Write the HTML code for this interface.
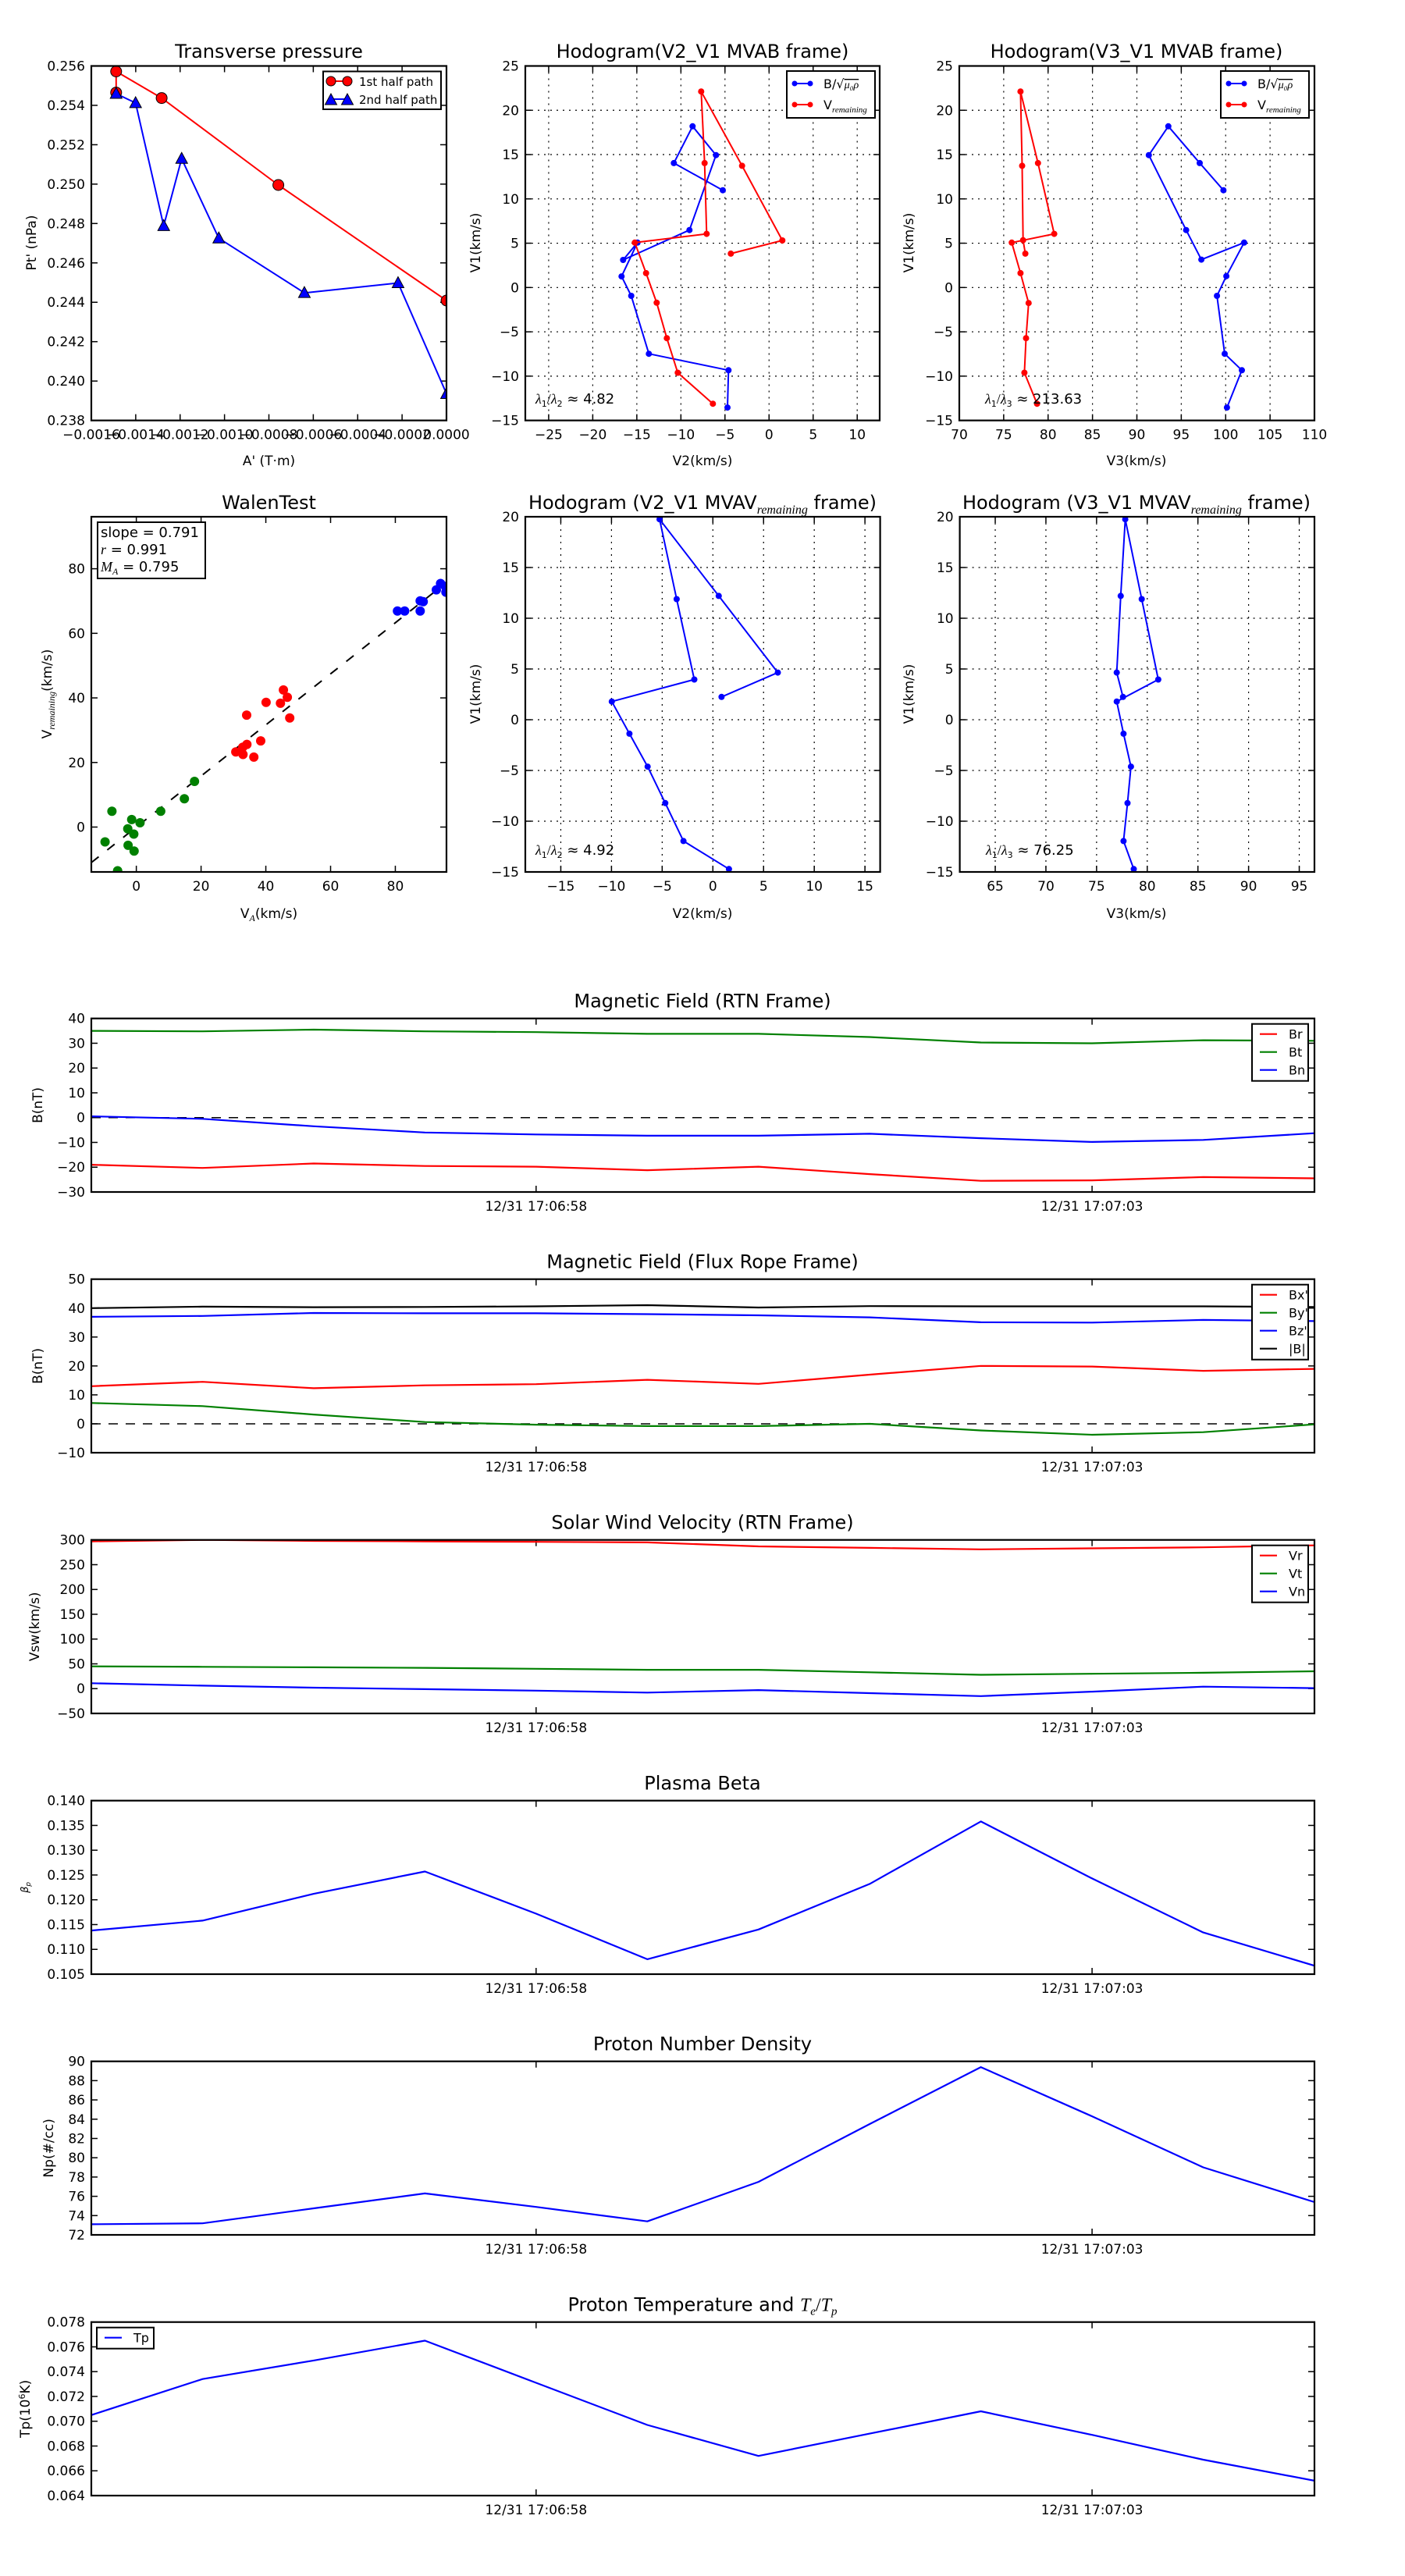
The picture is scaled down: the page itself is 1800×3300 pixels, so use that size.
<!DOCTYPE html>
<html><head><meta charset="utf-8"><style>
html,body{margin:0;padding:0;background:#fff;}
svg{display:block;}
text{font-family:"DejaVu Sans","Liberation Sans",sans-serif;fill:#000;}
</style></head><body>
<svg id="s" width="1800" height="3300" xmlns="http://www.w3.org/2000/svg"></svg>
<script>
var S=[],cid=0;
function add(s){S.push(s);}
function txt(x,y,s,o){o=o||{};add('<text x="'+x+'" y="'+y+'" font-size="'+(o.fs||17)+'" text-anchor="'+(o.a||'start')+'"'+(o.tr?' transform="'+o.tr+'"':'')+(o.st?' font-style="'+o.st+'"':'')+'>'+s+'</text>');}
function fmt(v){return (v<0?'\u2212':'')+Math.abs(v);}
function axes(o){
  var X=function(v){return o.L+(v-o.x0)/(o.x1-o.x0)*(o.R-o.L);};
  var Y=function(v){return o.B-(v-o.y0)/(o.y1-o.y0)*(o.B-o.T);};
  o.X=X;o.Y=Y;o.id='c'+(cid++);
  add('<clipPath id="'+o.id+'"><rect x="'+o.L+'" y="'+o.T+'" width="'+(o.R-o.L)+'" height="'+(o.B-o.T)+'"/></clipPath>');
  (o.xt||[]).forEach(function(t){var x=X(t[0]);
    if(o.grid)add('<line x1="'+x+'" y1="'+o.T+'" x2="'+x+'" y2="'+o.B+'" stroke="#000" stroke-width="1.2" stroke-dasharray="2,6"/>');
    add('<line x1="'+x+'" y1="'+o.B+'" x2="'+x+'" y2="'+(o.B-8)+'" stroke="#000" stroke-width="1.5"/><line x1="'+x+'" y1="'+o.T+'" x2="'+x+'" y2="'+(o.T+8)+'" stroke="#000" stroke-width="1.5"/>');
    txt(x,o.B+24,t[1],{a:'middle'});});
  (o.yt||[]).forEach(function(t){var y=Y(t[0]);
    if(o.grid)add('<line x1="'+o.L+'" y1="'+y+'" x2="'+o.R+'" y2="'+y+'" stroke="#000" stroke-width="1.2" stroke-dasharray="2,6"/>');
    add('<line x1="'+o.L+'" y1="'+y+'" x2="'+(o.L+8)+'" y2="'+y+'" stroke="#000" stroke-width="1.5"/><line x1="'+o.R+'" y1="'+y+'" x2="'+(o.R-8)+'" y2="'+y+'" stroke="#000" stroke-width="1.5"/>');
    txt(o.L-8,y+6,t[1],{a:'end'});});
  return o;
}
function frame(o){add('<rect x="'+o.L+'" y="'+o.T+'" width="'+(o.R-o.L)+'" height="'+(o.B-o.T)+'" fill="none" stroke="#000" stroke-width="2.2"/>');}
function poly(o,pts,col,w,dash){add('<polyline clip-path="url(#'+o.id+')" points="'+pts.map(function(p){return p[0].toFixed(1)+','+p[1].toFixed(1);}).join(' ')+'" fill="none" stroke="'+col+'" stroke-width="'+(w||2)+'" stroke-linejoin="round"'+(dash?' stroke-dasharray="'+dash+'"':'')+'/>');}
function dots(o,pts,col,r,edge){pts.forEach(function(p){add('<circle clip-path="url(#'+o.id+')" cx="'+p[0].toFixed(1)+'" cy="'+p[1].toFixed(1)+'" r="'+r+'" fill="'+col+'"'+(edge?' stroke="#000" stroke-width="1"':'')+'/>');});}
function tris(o,pts){pts.forEach(function(p){var x=p[0],y=p[1];add('<polygon clip-path="url(#'+o.id+')" points="'+x+','+(y-8)+' '+(x-7.5)+','+(y+6)+' '+(x+7.5)+','+(y+6)+'" fill="#0000ff" stroke="#000" stroke-width="1"/>');});}
function cv(pts,ox,fx,oy,fy){return pts.map(function(p){return [ox+p[0]/fx,oy+p[1]/fy];});}
function range(a,b,s){var r=[];for(var v=a;v<=b+1e-9;v+=s)r.push([v,fmt(+v.toFixed(6))]);return r;}

var xtA=[];for(var i=0;i<9;i++){var v=-0.0016+i*0.0002;xtA.push([v,(v<-1e-9?'\u2212':'')+Math.abs(v).toFixed(4)]);}
var ytA=[];for(i=0;i<10;i++){v=0.238+i*0.002;ytA.push([v,v.toFixed(3)]);}
var a1=axes({L:117,R:572,T:84.5,B:538.6,x0:-0.0016,x1:0,y0:0.238,y1:0.256,xt:xtA,yt:ytA});
var red1=cv([[388,252],[388,175],[540,272],[930,589],[1492,1010]],0,2.608,30,2.845);
var blu1=cv([[388,256],[453,290],[547,738],[607,493],[731,783],[1017,982],[1330,946],[1492,1350]],0,2.608,30,2.845);
poly(a1,red1,'#ff0000',2);poly(a1,blu1,'#0000ff',2);
dots(a1,red1,'#ff0000',7,true);tris(a1,blu1);
frame(a1);
add('<rect x="414" y="91.5" width="151" height="48.5" fill="#fff" stroke="#000" stroke-width="2"/>');
add('<line x1="424" y1="104" x2="445" y2="104" stroke="#ff0000" stroke-width="2"/>');
add('<circle cx="424" cy="104" r="6" fill="#ff0000" stroke="#000"/><circle cx="445" cy="104" r="6" fill="#ff0000" stroke="#000"/>');
add('<line x1="424" y1="127" x2="445" y2="127" stroke="#0000ff" stroke-width="2"/>');
tris(a1,[[424,128],[445,128]]);
txt(460,110,'1st half path',{fs:15});txt(460,133,'2nd half path',{fs:15});
txt(344.5,74,'Transverse pressure',{fs:24,a:'middle'});
txt(344.5,596,"A' (T\u00b7m)",{a:'middle'});
txt(0,0,"Pt' (nPa)",{a:'middle',tr:'translate(46,311) rotate(-90)'});

function hodLegend(x){
  add('<rect x="'+x+'" y="91" width="113" height="60" fill="#fff" stroke="#000" stroke-width="2"/>');
  add('<line x1="'+(x+10)+'" y1="107" x2="'+(x+30)+'" y2="107" stroke="#0000ff" stroke-width="2"/><circle cx="'+(x+10)+'" cy="107" r="3.5" fill="#0000ff"/><circle cx="'+(x+30)+'" cy="107" r="3.5" fill="#0000ff"/>');
  add('<line x1="'+(x+10)+'" y1="134" x2="'+(x+30)+'" y2="134" stroke="#ff0000" stroke-width="2"/><circle cx="'+(x+10)+'" cy="134" r="3.5" fill="#ff0000"/><circle cx="'+(x+30)+'" cy="134" r="3.5" fill="#ff0000"/>');
  add('<text x="'+(x+47)+'" y="113" font-size="16">B/\u221a<tspan font-style="italic" font-family="Liberation Serif,serif" font-size="14" text-decoration="overline">\u03bc\u2080\u03c1</tspan></text>');
  add('<text x="'+(x+47)+'" y="140" font-size="16">V<tspan font-style="italic" font-family="Liberation Serif,serif" font-size="11" dy="4">remaining</tspan></text>');
}
function lam(x,y,sub,val){add('<text x="'+x+'" y="'+y+'" font-size="18"><tspan font-family="Liberation Serif,serif" font-style="italic">\u03bb</tspan><tspan font-size="11" dy="4">1</tspan><tspan dy="-4" font-family="Liberation Serif,serif">/</tspan><tspan font-family="Liberation Serif,serif" font-style="italic">\u03bb</tspan><tspan font-size="11" dy="4">'+sub+'</tspan><tspan dy="-4"> \u2248 '+val+'</tspan></text>');}

var a2=axes({L:673,R:1127,T:84.5,B:538.6,x0:-27.65,x1:12.55,y0:-15,y1:25,grid:1,xt:range(-25,10,5),yt:range(-15,25,5)});
var b2=cv([[798,608],[610,509],[682,375],[772,480],[670,753],[415,862],[470,799],[409,922],[446,993],[514,1204],[820,1264],[816,1400]],660,3,30,2.845);
var r2=cv([[829,839],[1027,791],[872,519],[715,248],[728,509],[736,767],[460,799],[503,910],[544,1018],[583,1147],[625,1273],[760,1386]],660,3,30,2.845);
poly(a2,b2,'#0000ff',2);dots(a2,b2,'#0000ff',4);poly(a2,r2,'#ff0000',2);dots(a2,r2,'#ff0000',4);
frame(a2);hodLegend(1008);lam(686,517,'2','4.82');
txt(900,74,'Hodogram(V2_V1 MVAB frame)',{fs:24,a:'middle'});
txt(900,596,'V2(km/s)',{a:'middle'});
txt(0,0,'V1(km/s)',{a:'middle',tr:'translate(615,311) rotate(-90)'});

var a3=axes({L:1229,R:1684,T:84.5,B:538.6,x0:70,x1:110,y0:-15,y1:25,grid:1,xt:range(70,110,5),yt:range(-15,25,5)});
var b3=cv([[1005,608],[932,509],[835,375],[775,480],[890,753],[937,861],[1069,799],[1014,921],[985,993],[1009,1204],[1062,1264],[1016,1400]],1150,2.408,30,2.845);
var r3=cv([[394,839],[387,790],[384,519],[379,248],[433,509],[483,767],[352,799],[379,910],[404,1019],[396,1147],[391,1273],[430,1386]],1150,2.408,30,2.845);
poly(a3,b3,'#0000ff',2);dots(a3,b3,'#0000ff',4);poly(a3,r3,'#ff0000',2);dots(a3,r3,'#ff0000',4);
frame(a3);hodLegend(1564);lam(1262,517,'3','213.63');
txt(1456,74,'Hodogram(V3_V1 MVAB frame)',{fs:24,a:'middle'});
txt(1456,596,'V3(km/s)',{a:'middle'});
txt(0,0,'V1(km/s)',{a:'middle',tr:'translate(1170,311) rotate(-90)'});

var a4=axes({L:117,R:572,T:662,B:1117,x0:-13.9,x1:95.8,y0:-13.9,y1:96.1,xt:range(0,80,20),yt:range(0,80,20)});
function wz(p){return cv(p,0,2.608,640,2.698);}
poly(a4,[[a4.X(-13.9),a4.Y(-13.9*0.791)],[a4.X(95.8),a4.Y(95.8*0.791)]],'#000',2,'12,14');
dots(a4,wz([[374,1077],[440,1106],[468,1117],[427,1138],[447,1156],[351,1183],[428,1195],[448,1215],[393,1283],[537,1077],[616,1034],[650,974]]),'#008000',6);
dots(a4,wz([[788,872],[811,856],[825,846],[812,881],[848,890],[871,834],[824,745],[889,701],[937,704],[947,658],[960,683],[968,755]]),'#ff0000',6);
dots(a4,wz([[1328,385],[1352,385],[1404,385],[1404,350],[1414,353],[1458,312],[1472,290],[1488,300],[1490,320]]),'#0000ff',6);
frame(a4);
add('<rect x="125" y="669" width="138" height="72" fill="#fff" stroke="#000" stroke-width="2"/>');
txt(129,688,'slope = 0.791',{fs:18});
add('<text x="129" y="710" font-size="18"><tspan font-family="Liberation Serif,serif" font-style="italic">r</tspan> = 0.991</text>');
add('<text x="129" y="732" font-size="18"><tspan font-family="Liberation Serif,serif" font-style="italic">M</tspan><tspan font-family="Liberation Serif,serif" font-style="italic" font-size="12" dy="4">A</tspan><tspan dy="-4"> = 0.795</tspan></text>');
txt(344.5,652,'WalenTest',{fs:24,a:'middle'});
add('<text x="344.5" y="1176" font-size="17" text-anchor="middle">V<tspan font-family="Liberation Serif,serif" font-style="italic" font-size="12" dy="4">A</tspan><tspan dy="-4">(km/s)</tspan></text>');
add('<text transform="translate(66,889) rotate(-90)" font-size="17" text-anchor="middle">V<tspan font-family="Liberation Serif,serif" font-style="italic" font-size="12" dy="4">remaining</tspan><tspan dy="-4">(km/s)</tspan></text>');

function rz(p){return cv(p,660,1.3728,640,2.698);}
var a5=axes({L:673,R:1127.6,T:662,B:1117,x0:-18.5,x1:16.5,y0:-15,y1:20,grid:1,xt:range(-15,15,5),yt:range(-15,20,5)});
var b5=rz([[363,682],[462,598],[358,333],[254,68],[284,344],[315,622],[170,698],[201,809],[233,923],[264,1049],[296,1180],[376,1277]]);
poly(a5,b5,'#0000ff',2);dots(a5,b5,'#0000ff',4);frame(a5);lam(686,1095,'2','4.92');
add('<text x="900" y="652" font-size="24" text-anchor="middle">Hodogram (V2_V1 MVAV<tspan font-family="Liberation Serif,serif" font-style="italic" font-size="16" dy="6">remaining</tspan><tspan dy="-6"> frame)</tspan></text>');
txt(900,1176,'V2(km/s)',{a:'middle'});
txt(0,0,'V1(km/s)',{a:'middle',tr:'translate(615,889) rotate(-90)'});

var a6=axes({L:1229.6,R:1684,T:662,B:1117,x0:61.5,x1:96.5,y0:-15,y1:20,grid:1,xt:range(65,95,5),yt:range(-15,20,5)});
var b6=rz([[1069,682],[1058,598],[1065,333],[1073,68],[1102,344],[1131,622],[1058,698],[1070,809],[1083,923],[1077,1049],[1070,1180],[1088,1277]]);
poly(a6,b6,'#0000ff',2);dots(a6,b6,'#0000ff',4);frame(a6);lam(1263,1095,'3','76.25');
add('<text x="1456" y="652" font-size="24" text-anchor="middle">Hodogram (V3_V1 MVAV<tspan font-family="Liberation Serif,serif" font-style="italic" font-size="16" dy="6">remaining</tspan><tspan dy="-6"> frame)</tspan></text>');
txt(1456,1176,'V3(km/s)',{a:'middle'});
txt(0,0,'V1(km/s)',{a:'middle',tr:'translate(1170,889) rotate(-90)'});

var tx=[[4,'12/31 17:06:58'],[9,'12/31 17:07:03']];
function ts(i,y0,y1,yt,series,title,ylab,ylx,zero,leg,legLeft){
  var T=1304.7+i*334,B=T+222.3;
  var o=axes({L:117,R:1684,T:T,B:B,x0:0,x1:11,y0:y0,y1:y1,xt:tx,yt:yt});
  if(zero)poly(o,[[117,o.Y(0)],[1684,o.Y(0)]],'#000',1.5,'12,10');
  series.forEach(function(s){poly(o,s[1].map(function(v,k){return [o.X(k),o.Y(v)];}),s[0],2.2);});
  frame(o);
  txt(900,T-14,title,{fs:24,a:'middle'});
  if(typeof ylab==='string')txt(0,0,ylab,{a:'middle',tr:'translate('+ylx+','+((T+B)/2)+') rotate(-90)'});else add(ylab(ylx,(T+B)/2));
  if(leg){var n=leg.length,h=n*23+4,bx=legLeft?124:1604,bw=legLeft?73:72;if(legLeft)h=27;
    add('<rect x="'+bx+'" y="'+(T+7)+'" width="'+bw+'" height="'+h+'" fill="#fff" stroke="#000" stroke-width="2"/>');
    leg.forEach(function(l,k){var y=T+20+k*23;add('<line x1="'+(bx+10)+'" y1="'+y+'" x2="'+(bx+32)+'" y2="'+y+'" stroke="'+l[0]+'" stroke-width="2.2"/>');txt(bx+47,y+6,l[1],{fs:16});});}
}
ts(0,-30,40,range(-30,40,10),[['#008000',[35,34.8,35.5,34.8,34.5,33.8,33.8,32.5,30.3,30,31.2,31]],['#0000ff',[0.5,-0.5,-3.5,-6,-6.8,-7.3,-7.3,-6.5,-8.3,-9.8,-9,-6.3]],['#ff0000',[-19,-20.3,-18.5,-19.5,-19.8,-21.2,-19.8,-22.8,-25.5,-25.3,-24,-24.5]]],'Magnetic Field (RTN Frame)','B(nT)',54,1,[['#ff0000','Br'],['#008000','Bt'],['#0000ff','Bn']]);
ts(1,-10,50,range(-10,50,10),[['#000',[40,40.5,40.3,40.4,40.6,41,40.2,40.7,40.6,40.6,40.6,40.4]],['#0000ff',[37,37.3,38.3,38.2,38.2,37.9,37.5,36.8,35.1,35,35.9,35.5]],['#ff0000',[13,14.5,12.3,13.3,13.7,15.2,13.8,17,20,19.8,18.3,19]],['#008000',[7.2,6.1,3.2,0.6,-0.3,-0.8,-0.8,0,-2.3,-3.8,-2.9,-0.2]]],'Magnetic Field (Flux Rope Frame)','B(nT)',54,1,[['#ff0000',"Bx'"],['#008000',"By'"],['#0000ff',"Bz'"],['#000','|B|']]);
ts(2,-50,300,range(-50,300,50),[['#ff0000',[297,300,298,297,296,295,287,284,281,283,285,289]],['#008000',[45,44,43,42,40,38,38,33,28,30,32,35]],['#0000ff',[11,6,2,-1,-4,-8,-3,-9,-15,-6,4,1]]],'Solar Wind Velocity (RTN Frame)','Vsw(km/s)',50,0,[['#ff0000','Vr'],['#008000','Vt'],['#0000ff','Vn']]);
var ytb=[];for(i=0;i<8;i++){v=0.105+i*0.005;ytb.push([v,v.toFixed(3)]);}
ts(3,0.105,0.140,ytb,[['#0000ff',[0.1138,0.1158,0.1212,0.1257,0.1172,0.108,0.114,0.1232,0.1358,0.1243,0.1134,0.1067]]],'Plasma Beta',function(x,y){return '<text transform="translate(36,'+y+') rotate(-90)" font-size="13" font-family="Liberation Serif,serif" font-style="italic" text-anchor="middle">\u03b2<tspan font-size="9" dy="3">p</tspan></text>';},36,0,null);
ts(4,72,90,range(72,90,2),[['#0000ff',[73.1,73.2,74.75,76.3,74.9,73.4,77.5,83.5,89.4,84.3,79,75.4]]],'Proton Number Density','Np(#/cc)',68,0,null);
var ytt=[];for(i=0;i<8;i++){v=0.064+i*0.002;ytt.push([v,v.toFixed(3)]);}
ts(5,0.064,0.078,ytt,[['#0000ff',[0.0705,0.0734,0.0749,0.0765,0.0731,0.0697,0.0672,0.0690,0.0708,0.0689,0.0669,0.0652]]],'Proton Temperature and',function(x,y){return '<text transform="translate(38,'+y+') rotate(-90)" font-size="17" text-anchor="middle">Tp(10<tspan font-size="11" dy="-6">6</tspan><tspan dy="6">K)</tspan></text>';},38,0,[['#0000ff','Tp']],1);
S=S.filter(function(s){return s.indexOf('>Proton Temperature and<')<0;});
add('<text x="900" y="'+(1304.7+5*334-14)+'" font-size="24" text-anchor="middle">Proton Temperature and <tspan font-family="Liberation Serif,serif" font-style="italic">T</tspan><tspan font-family="Liberation Serif,serif" font-style="italic" font-size="15" dy="5">e</tspan><tspan dy="-5" font-family="Liberation Serif,serif">/</tspan><tspan font-family="Liberation Serif,serif" font-style="italic">T</tspan><tspan font-family="Liberation Serif,serif" font-style="italic" font-size="15" dy="5">p</tspan></text>');
document.getElementById('s').innerHTML=S.join('');
</script>
</body></html>
